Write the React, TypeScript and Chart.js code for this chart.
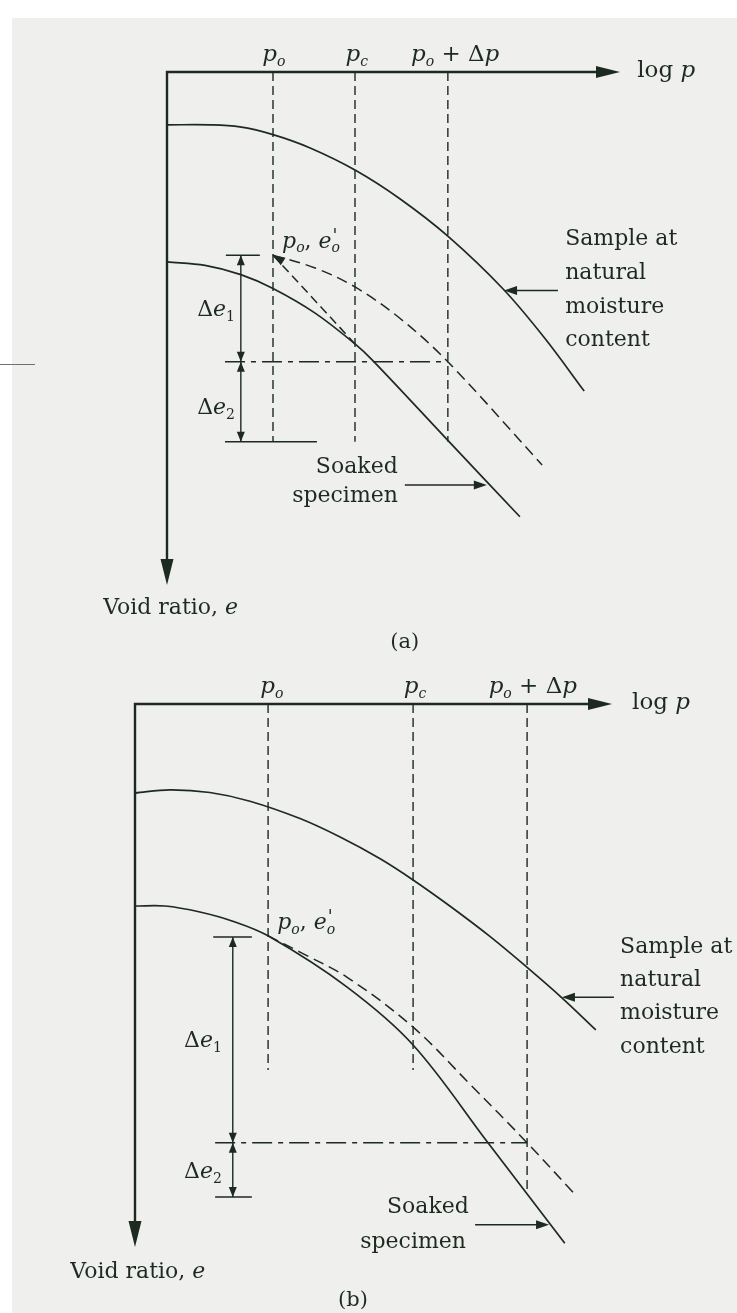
import React, { useEffect, useRef } from 'react';
import { Chart, registerables } from 'chart.js';

Chart.register(...registerables);

const INK = '#1c2a21';
const PAPER = '#efefed';
const SERIF = '"DejaVu Serif", "Liberation Serif", serif';

// ---------- Panel (a) ----------
// x: log p along the pressure axis (0..10); y: void ratio e (10 at the pressure axis, 0 at the arrow tip)
const A_PRESSURE_X = [2.34, 4.15, 6.2]; // p_o, p_c, p_o + Δp
const A_PRESSURE_KEYS = ['po', 'pc', 'podp'];
const A_GUIDE_END_E = [2.79, 2.79, 2.79];

const A_NATURAL_X = [0, 0.95, 1.61, 2.34, 3.16, 4.15, 5.14, 6.2, 7.42, 8.34, 9.21];
const A_NATURAL_E = [8.97, 8.97, 8.93, 8.78, 8.52, 8.09, 7.53, 6.8, 5.77, 4.81, 3.78];

const A_SOAKED_X = [0, 0.84, 1.63, 2.34, 3.27, 4.15, 4.55, 6.2, 7.79];
const A_SOAKED_E = [6.3, 6.23, 6.05, 5.78, 5.3, 4.7, 4.37, 2.82, 1.33];

const A_CORRECTED_X = [2.34, 3.27, 4.15, 5.14, 6.2, 8.28];
const A_CORRECTED_E = [6.43, 6.18, 5.81, 5.2, 4.35, 2.34];

const A_CHORD_X = [2.34, 4.15];
const A_CHORD_E = [6.43, 4.7];

const A_LEVEL_E = [6.43, 4.35, 2.79]; // e'_o, e'_o − Δe1, e'_o − Δe1 − Δe2
const A_LEVEL_FROM_X = [1.3, 1.28, 1.28];
const A_LEVEL_TO_X = [2.05, 6.2, 3.31];
const A_DELTA_X = 1.63;

// ---------- Panel (b) ----------
const B_PRESSURE_X = [2.79, 5.83, 8.22];
const B_PRESSURE_KEYS = ['po', 'pc', 'podp'];
const B_GUIDE_END_E = [3.26, 3.26, 1.05];

const B_NATURAL_X = [0, 0.73, 1.57, 2.41, 3.46, 4.3, 5.14, 5.83, 6.6, 7.44, 8.22, 8.95, 9.66];
const B_NATURAL_E = [8.36, 8.42, 8.37, 8.21, 7.89, 7.55, 7.15, 6.76, 6.28, 5.72, 5.15, 4.59, 4.0];

const B_SOAKED_X = [0, 0.63, 1.36, 2.05, 2.79, 4.44, 5.83, 7.4, 9.01];
const B_SOAKED_E = [6.28, 6.28, 6.17, 6.0, 5.73, 4.79, 3.72, 1.92, 0.07];

const B_CORRECTED_X = [2.79, 3.46, 4.44, 5.83, 7.02, 8.22, 9.2];
const B_CORRECTED_E = [5.73, 5.43, 4.97, 4.05, 3.0, 1.92, 0.99];

const B_LEVEL_E = [5.71, 1.92, 0.92];
const B_LEVEL_FROM_X = [1.64, 1.68, 1.68];
const B_LEVEL_TO_X = [2.45, 8.22, 2.45];
const B_DELTA_X = 2.05;

const SAMPLE_LINES = ['Sample at', 'natural', 'moisture', 'content'];
const SOAKED_LINES = ['Soaked', 'specimen'];

type Run = { t: string; it?: boolean; sub?: boolean; sup?: boolean; keep?: boolean; scale?: number };

const RUNS: Record<string, Run[]> = {
  po: [{ t: 'p', it: true }, { t: 'o', it: true, sub: true }],
  pc: [{ t: 'p', it: true }, { t: 'c', it: true, sub: true }],
  podp: [
    { t: 'p', it: true },
    { t: 'o', it: true, sub: true },
    { t: ' + ' },
    { t: 'Δ' },
    { t: 'p', it: true },
  ],
  poeo: [
    { t: 'p', it: true },
    { t: 'o', it: true, sub: true },
    { t: ', ' },
    { t: 'e', it: true },
    { t: "'", it: true, sup: true, keep: true, scale: 0.8 },
    { t: 'o', it: true, sub: true },
  ],
  de1: [{ t: 'Δ' }, { t: 'e', it: true }, { t: '1', sub: true }],
  de2: [{ t: 'Δ' }, { t: 'e', it: true }, { t: '2', sub: true }],
  logp: [{ t: 'log ' }, { t: 'p', it: true }],
  void: [{ t: 'Void ratio, ' }, { t: 'e', it: true }],
};

function drawRuns(
  ctx: CanvasRenderingContext2D,
  runs: Run[],
  x: number,
  y: number,
  align: 'left' | 'center' | 'right',
  size: number
) {
  const fontOf = (r: Run) => {
    const s = r.scale ? size * r.scale : r.sub || r.sup ? size * 0.62 : size;
    return `${r.it ? 'italic ' : ''}${Math.round(s)}px ${SERIF}`;
  };
  let total = 0;
  const widths = runs.map((r) => {
    ctx.font = fontOf(r);
    const w = ctx.measureText(r.t).width;
    if (!r.keep) total += w;
    return w;
  });
  let cx = align === 'center' ? x - total / 2 : align === 'right' ? x - total : x;
  ctx.textBaseline = 'middle';
  ctx.textAlign = 'left';
  runs.forEach((r, i) => {
    ctx.font = fontOf(r);
    const dy = r.sub ? size * 0.32 : r.sup ? -size * 0.22 : 0;
    ctx.fillText(r.t, cx + (r.sup ? 1 : 0), y + dy);
    if (!r.keep) cx += widths[i];
  });
}

function head(
  ctx: CanvasRenderingContext2D,
  tx: number,
  ty: number,
  dx: number,
  dy: number,
  len: number,
  half: number
) {
  const n = Math.hypot(dx, dy) || 1;
  const ux = dx / n;
  const uy = dy / n;
  const bx = tx - ux * len;
  const by = ty - uy * len;
  ctx.beginPath();
  ctx.moveTo(tx, ty);
  ctx.lineTo(bx - uy * half, by + ux * half);
  ctx.lineTo(bx + uy * half, by - ux * half);
  ctx.closePath();
  ctx.fill();
}

type Panel = {
  name: string;
  height: number;
  pad: { left: number; right: number; top: number; bottom: number };
  paperTop: number;
  paperLeft: number;
  stray: boolean;
  pressureX: number[];
  pressureKeys: string[];
  guideEndE: number[];
  natural: [number[], number[]];
  soaked: [number[], number[]];
  corrected: [number[], number[]];
  chord: [number[], number[]] | null;
  levelE: number[];
  levelFrom: number[];
  levelTo: number[];
  deltaX: number;
  layout: {
    pressureLabelX: number[];
    pressureLabelE: number;
    logX: number;
    poeo: [number, number];
    de1: [number, number];
    de2: [number, number];
    sampleX: number;
    sampleE: number[];
    naturalArrow: { from: number; to: number; e: number };
    soakedText: [number, number][];
    soakedArrow: { from: number; to: number; e: number };
    voidAt: [number, number];
    tagAt: [number, number];
    tag: string;
  };
};

const PANEL_A: Panel = {
  name: 'a',
  height: 660,
  pad: { left: 167, right: 117, top: 72, bottom: 75 },
  paperTop: 18,
  paperLeft: 12,
  stray: true,
  pressureX: A_PRESSURE_X,
  pressureKeys: A_PRESSURE_KEYS,
  guideEndE: A_GUIDE_END_E,
  natural: [A_NATURAL_X, A_NATURAL_E],
  soaked: [A_SOAKED_X, A_SOAKED_E],
  corrected: [A_CORRECTED_X, A_CORRECTED_E],
  chord: [A_CHORD_X, A_CHORD_E],
  levelE: A_LEVEL_E,
  levelFrom: A_LEVEL_FROM_X,
  levelTo: A_LEVEL_TO_X,
  deltaX: A_DELTA_X,
  layout: {
    pressureLabelX: [2.36, 4.19, 6.36],
    pressureLabelE: 10.33,
    logX: 10.38,
    poeo: [2.54, 6.69],
    de1: [1.5, 5.36],
    de2: [1.5, 3.45],
    sampleX: 8.79,
    sampleE: [6.73, 6.08, 5.42, 4.78],
    naturalArrow: { from: 8.63, to: 7.44, e: 5.74 },
    soakedText: [
      [4.19, 2.3],
      [3.93, 1.72],
    ],
    soakedArrow: { from: 5.25, to: 7.06, e: 1.95 },
    voidAt: [0.08, -0.45],
    tagAt: [5.25, -1.13],
    tag: '(a)',
  },
};

const PANEL_B: Panel = {
  name: 'b',
  height: 653,
  pad: { left: 135, right: 125, top: 44, bottom: 66 },
  paperTop: 0,
  paperLeft: 12,
  stray: false,
  pressureX: B_PRESSURE_X,
  pressureKeys: B_PRESSURE_KEYS,
  guideEndE: B_GUIDE_END_E,
  natural: [B_NATURAL_X, B_NATURAL_E],
  soaked: [B_SOAKED_X, B_SOAKED_E],
  corrected: [B_CORRECTED_X, B_CORRECTED_E],
  chord: null,
  levelE: B_LEVEL_E,
  levelFrom: B_LEVEL_FROM_X,
  levelTo: B_LEVEL_TO_X,
  deltaX: B_DELTA_X,
  layout: {
    pressureLabelX: [2.87, 5.87, 8.34],
    pressureLabelE: 10.31,
    logX: 10.42,
    poeo: [2.98, 5.97],
    de1: [1.82, 3.78],
    de2: [1.82, 1.38],
    sampleX: 10.17,
    sampleE: [5.52, 4.92, 4.31, 3.68],
    naturalArrow: { from: 10.04, to: 8.95, e: 4.6 },
    soakedText: [
      [6.14, 0.74],
      [5.83, 0.09],
    ],
    soakedArrow: { from: 7.13, to: 8.68, e: 0.41 },
    voidAt: [0.06, -0.46],
    tagAt: [4.57, -0.98],
    tag: '(b)',
  },
};

const pts = (xs: number[], es: number[]) => xs.map((x, i) => ({ x, y: es[i] }));

function buildDatasets(p: Panel) {
  const base = {
    showLine: true,
    pointRadius: 0,
    borderColor: INK,
    fill: false,
    clip: false as const,
  };
  const curve = { cubicInterpolationMode: 'default', tension: 0.35 };
  const sets: any[] = [
    { ...base, ...curve, label: 'natural', data: pts(...p.natural), borderWidth: 1.7 },
    { ...base, ...curve, label: 'soaked', data: pts(...p.soaked), borderWidth: 1.7 },
    {
      ...base,
      ...curve,
      label: 'corrected',
      data: pts(...p.corrected),
      borderWidth: 1.5,
      borderDash: [11, 6],
    },
  ];
  if (p.chord) {
    sets.push({ ...base, label: 'chord', data: pts(...p.chord), borderWidth: 1.5, borderDash: [9, 5], tension: 0 });
  }
  p.pressureX.forEach((x, i) => {
    sets.push({
      ...base,
      label: 'guide-' + p.pressureKeys[i],
      data: [
        { x, y: 10 },
        { x, y: p.guideEndE[i] },
      ],
      borderWidth: 1.4,
      borderDash: [9, 5],
      tension: 0,
    });
  });
  p.levelE.forEach((e, i) => {
    sets.push({
      ...base,
      label: 'level-' + i,
      data: [
        { x: p.levelFrom[i], y: e },
        { x: p.levelTo[i], y: e },
      ],
      borderWidth: 1.5,
      borderDash: i === 1 ? [20, 6, 5, 6] : [],
      tension: 0,
    });
  });
  sets.push({
    ...base,
    label: 'delta-e',
    data: [
      { x: p.deltaX, y: p.levelE[0] },
      { x: p.deltaX, y: p.levelE[2] },
    ],
    borderWidth: 1.4,
    tension: 0,
  });
  return sets;
}

function diagramPlugin(p: Panel) {
  return {
    id: 'diagram-' + p.name,
    beforeDraw(chart: any) {
      const { ctx, width, height } = chart;
      ctx.save();
      ctx.fillStyle = '#ffffff';
      ctx.fillRect(0, 0, width, height);
      ctx.fillStyle = PAPER;
      ctx.fillRect(p.paperLeft, p.paperTop, width - p.paperLeft, height - p.paperTop);
      if (p.stray) {
        ctx.strokeStyle = '#707070';
        ctx.lineWidth = 1;
        ctx.beginPath();
        ctx.moveTo(0, 364.5);
        ctx.lineTo(35, 364.5);
        ctx.stroke();
      }
      ctx.restore();
    },
    afterDatasetsDraw(chart: any) {
      const { ctx, chartArea: a, scales } = chart;
      const X = (v: number) => scales.x.getPixelForValue(v);
      const Y = (v: number) => scales.y.getPixelForValue(v);
      const L = p.layout;
      ctx.save();
      ctx.strokeStyle = INK;
      ctx.fillStyle = INK;

      // axes with arrow heads
      ctx.lineWidth = 2.4;
      ctx.beginPath();
      ctx.moveTo(a.left, a.top);
      ctx.lineTo(a.right - 18, a.top);
      ctx.moveTo(a.left, a.top - 1.2);
      ctx.lineTo(a.left, a.bottom - 20);
      ctx.stroke();
      head(ctx, a.right, a.top, 1, 0, 24, 6);
      head(ctx, a.left, a.bottom, 0, 1, 26, 6.5);

      // arrow heads on the Δe dimension lines
      const dx = X(p.deltaX);
      const [e0, e1, e2] = p.levelE.map(Y);
      head(ctx, dx, e0, 0, -1, 10, 4);
      head(ctx, dx, e1, 0, 1, 10, 4);
      head(ctx, dx, e1, 0, -1, 10, 4);
      head(ctx, dx, e2, 0, 1, 10, 4);

      // arrow head at (p_o, e'_o) where the dashed lines start
      if (p.chord) {
        const tx = X(p.chord[0][0]);
        const ty = Y(p.chord[1][0]);
        const c1 = { x: X(p.chord[0][1]) - tx, y: Y(p.chord[1][1]) - ty };
        const c2 = { x: X(p.corrected[0][1]) - tx, y: Y(p.corrected[1][1]) - ty };
        const n1 = Math.hypot(c1.x, c1.y);
        const n2 = Math.hypot(c2.x, c2.y);
        const bx = c1.x / n1 + c2.x / n2;
        const by = c1.y / n1 + c2.y / n2;
        head(ctx, tx, ty, -bx, -by, 12, 4.5);
      }

      // pointer arrows to the curves
      ctx.lineWidth = 1.6;
      const na = L.naturalArrow;
      ctx.beginPath();
      ctx.moveTo(X(na.from), Y(na.e));
      ctx.lineTo(X(na.to) + 8, Y(na.e));
      ctx.stroke();
      head(ctx, X(na.to), Y(na.e), -1, 0, 13, 4.5);
      const sa = L.soakedArrow;
      ctx.beginPath();
      ctx.moveTo(X(sa.from), Y(sa.e));
      ctx.lineTo(X(sa.to) - 8, Y(sa.e));
      ctx.stroke();
      head(ctx, X(sa.to), Y(sa.e), 1, 0, 13, 4.5);

      // text
      p.pressureKeys.forEach((k, i) => {
        drawRuns(ctx, RUNS[k], X(L.pressureLabelX[i]), Y(L.pressureLabelE), 'center', 23);
      });
      drawRuns(ctx, RUNS.logp, X(L.logX), Y(10) - 1, 'left', 23);
      drawRuns(ctx, RUNS.poeo, X(L.poeo[0]), Y(L.poeo[1]), 'left', 22);
      drawRuns(ctx, RUNS.de1, X(L.de1[0]), Y(L.de1[1]), 'right', 22);
      drawRuns(ctx, RUNS.de2, X(L.de2[0]), Y(L.de2[1]), 'right', 22);
      SAMPLE_LINES.forEach((t, i) => {
        drawRuns(ctx, [{ t }], X(L.sampleX), Y(L.sampleE[i]), 'left', 22);
      });
      SOAKED_LINES.forEach((t, i) => {
        drawRuns(ctx, [{ t }], X(L.soakedText[i][0]), Y(L.soakedText[i][1]), 'center', 22);
      });
      drawRuns(ctx, RUNS.void, X(L.voidAt[0]), Y(L.voidAt[1]), 'center', 22);
      drawRuns(ctx, [{ t: L.tag }], X(L.tagAt[0]), Y(L.tagAt[1]), 'center', 21);
      ctx.restore();
    },
  };
}

function buildChart(canvas: HTMLCanvasElement, p: Panel) {
  return new Chart(canvas, {
    type: 'scatter',
    data: { datasets: buildDatasets(p) },
    options: {
      responsive: false,
      maintainAspectRatio: false,
      animation: false,
      devicePixelRatio: 1,
      events: [],
      layout: { padding: p.pad },
      scales: {
        x: { type: 'linear', min: 0, max: 10, display: false },
        y: { type: 'linear', min: 0, max: 10, display: false },
      },
      plugins: {
        legend: { display: false },
        tooltip: { enabled: false },
        title: { display: false },
      },
    },
    plugins: [diagramPlugin(p)],
  } as any);
}

export default function App() {
  const aRef = useRef<HTMLCanvasElement>(null);
  const bRef = useRef<HTMLCanvasElement>(null);

  useEffect(() => {
    const charts = [buildChart(aRef.current!, PANEL_A), buildChart(bRef.current!, PANEL_B)];
    return () => charts.forEach((c) => c.destroy());
  }, []);

  return (
    <div
      style={{
        position: 'absolute',
        left: 0,
        top: 0,
        width: 737,
        height: 1313,
        background: PAPER,
        overflow: 'hidden',
      }}
    >
      <canvas ref={aRef} width={737} height={PANEL_A.height} style={{ display: 'block', width: 737, height: PANEL_A.height }} />
      <canvas ref={bRef} width={737} height={PANEL_B.height} style={{ display: 'block', width: 737, height: PANEL_B.height }} />
    </div>
  );
}
